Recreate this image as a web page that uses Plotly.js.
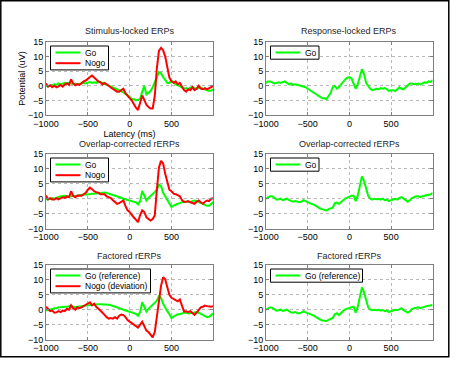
<!DOCTYPE html>
<html>
<head>
<meta charset="utf-8">
<script src="https://cdn.plot.ly/plotly-3.0.1.min.js"></script>
<style>html,body{margin:0;padding:0;background:#fff;}#chart{width:456px;height:368px;}</style>
</head>
<body>
<div id="chart"></div>
<script>
// ---- data ----
const latency = Array.from({length: 81}, (_, i) => -1000 + 25 * i); // ms, sample grid

const stimGo = [
  0, -0.2, 0, 0.3, 0.5, 0.3, 0.8, 0.5, 0.7, 1.0,
  0.8, 1.0, 0.8, 0.6, 0.8, 0.5, 0.6, 0.7, 1.0, 0.8,
  1.0, 1.3, 1.0, 1.2, 1.0, 1.5, 1.3, 1.0, 0.8, 0.5,
  0.0, -0.3, -0.6, -0.8, -1.0, -1.4, -1.8, -2.3, -2.7, -3.3,
  -3.8, -4.5, -4.6, -5.0, -4.8, -4.5, -2.0, 0.0, -3.0, -2.5,
  -1.8, -0.5, 1.5, 3.0, 4.7, 4.3, 3.0, 1.8, 1.0, 1.0,
  1.8, 1.2, 0.5, 0.2, -0.3, -0.8, -1.0, -0.8, -1.2, -0.6,
  -0.4, -0.8, -1.0, -0.6, -0.5, -1.0, -1.2, -1.5, -1.8, -1.6,
  -1.2
];
const stimNogo = [
  0.8, -0.3, 0.2, -0.5, 0.0, -0.5, -0.2, 0.3, -0.3, 0.5,
  0.8, 0.3, 2.2, 0.8, 0.2, 0.6, 0.3, 1.0, 1.5, 1.8,
  2.5, 3.0, 3.5, 2.8, 2.0, 1.5, 1.2, 0.5, 1.0, 0.6,
  0.0, -0.6, -1.0, -1.5, -2.0, -2.0, -1.5, -1.0, -2.5, -3.5,
  -4.2, -5.0, -6.3, -7.5, -8.3, -6.0, -3.3, -4.8, -6.5, -7.3,
  -7.8, -7.8, -3.5, 6.0, 12.0, 13.0, 12.2, 10.0, 6.5, 2.8,
  1.5, 1.0, 1.5, 0.5, 1.0, -0.5, -1.5, -2.0, -1.2, -1.5,
  -0.5, -1.5, -1.0, 0.0, -1.0, -1.2, -0.8, -1.2, -0.8, -0.5,
  0.0
];
const respGo = [
  1.0, 1.5, 1.5, 1.2, 0.8, 1.0, 1.2, 1.0, 1.2, 1.5,
  1.0, 0.5, 0.8, 0.3, 0.5, 0.3, 0.2, 0.0, -0.3, -0.5,
  -1.0, -1.5, -2.0, -2.5, -3.0, -3.5, -4.0, -4.3, -4.3, -4.6,
  -3.5, -2.5, -0.5, 0.0, -1.0, -0.5, 0.5, 1.5, 2.2, 2.8,
  3.0, 2.5, 0.5, -1.0, 0.5, 3.0, 5.7, 4.0, 1.0, 0.0,
  -1.0, -1.5, -1.2, -1.0, -1.2, -0.8, -1.0, -0.8, -1.2, -1.8,
  -1.5, -1.5, -1.8, -1.0, -0.5, -1.0, -1.2, -0.5, 0.0, 0.8,
  0.8, 0.5, 0.6, 0.8, 0.5, 1.0, 1.2, 1.0, 1.5, 1.3,
  2.0
];
const overlapGo = [
  -0.2, -0.3, 0.0, 0.2, 0.0, 0.3, 0.6, 0.8, 0.8, 1.0,
  0.8, 0.6, 0.9, 0.8, 0.9, 1.0, 1.2, 1.3, 1.3, 1.5,
  1.4, 1.6, 1.7, 1.7, 1.8, 2.0, 2.0, 2.1, 2.1, 1.9,
  1.7, 1.5, 1.3, 1.0, 0.9, 0.6, 0.3, 0.0, -0.2, -0.4,
  -0.6, -0.8, -1.0, -1.2, -1.9, -0.8, 2.6, 1.0, -0.6, 0.3,
  1.1, 1.6, 2.2, 3.0, 4.7, 4.3, 2.0, 0.8, 0.0, -1.2,
  -2.8, -2.3, -1.9, -1.7, -1.5, -1.2, -0.9, -1.0, -1.1, -1.1,
  -0.8, -0.6, -0.8, -1.1, -1.4, -1.8, -2.2, -2.4, -2.4, -1.8,
  -1.1
];
const overlapNogo = [
  1.1, -0.2, 0.2, -0.3, -0.3, 0.2, -0.2, 0.3, 0.5, 0.3,
  0.8, 0.5, 2.5, 0.9, 0.5, 1.1, 1.1, 1.0, 1.5, 2.0,
  3.0, 3.7, 3.2, 2.5, 2.2, 2.0, 1.5, 1.5, 1.5, 0.8,
  0.6, 0.2, -0.5, -1.2, -1.7, -1.5, -1.0, -0.6, -2.5, -3.9,
  -4.5, -5.6, -6.3, -7.0, -7.9, -5.5, -3.9, -4.5, -6.2, -6.8,
  -7.3, -6.8, -5.6, 3.0, 10.5, 12.7, 11.8, 8.4, 5.5, 3.0,
  2.5, 1.7, 1.5, 1.2, 0.8, -0.5, -1.1, -1.0, -0.8, -1.2,
  -1.5, -1.7, -1.0, -0.6, -1.2, -1.7, -1.0, -0.6, -0.8, 0.0,
  0.2
];
const overlapRespGo = [
  0.0, 0.5, 0.8, 0.8, 0.3, -0.3, -0.3, 0.0, -0.5, -0.2,
  0.0, -0.5, -0.8, -1.0, -0.8, -1.0, -1.2, -1.0, -0.5, -0.8,
  -1.2, -1.5, -1.8, -2.0, -2.5, -3.0, -3.3, -3.5, -3.8, -4.0,
  -3.5, -3.2, -3.0, -1.5, -1.3, -1.8, -1.0, -0.5, 0.0, 0.3,
  0.5, 1.0, 1.0, -0.8, 1.0, 4.0, 7.5, 6.0, 3.0, 1.0,
  0.0, -0.3, 0.0, -0.2, 0.0, -0.3, 0.0, -0.5, -0.3, -0.8,
  -0.5, -0.3, 0.0, -0.3, 0.3, 0.5, 0.0, -0.5, -1.0, -0.5,
  0.2, 0.5, 0.8, 0.8, 0.5, 0.8, 1.0, 1.2, 1.3, 1.5,
  2.0
];
const factoredGo = [
  -0.3, 0.0, 0.0, 0.3, 0.5, 0.5, 0.8, 0.8, 1.0, 1.0,
  1.0, 1.2, 1.3, 1.0, 0.8, 1.0, 1.0, 1.2, 1.2, 1.4,
  1.5, 1.5, 1.6, 1.6, 1.7, 1.8, 1.8, 1.8, 1.9, 1.8,
  1.7, 1.5, 1.3, 1.0, 0.8, 0.6, 0.3, 0.0, -0.3, -0.5,
  -0.7, -0.9, -1.2, -1.4, -2.0, -0.8, 2.5, 1.0, -0.6, 0.3,
  1.0, 1.6, 2.3, 3.0, 4.5, 4.0, 2.0, 0.5, -0.5, -1.5,
  -2.8, -2.3, -1.8, -1.5, -1.5, -1.2, -1.0, -1.0, -1.3, -1.2,
  -1.0, -0.9, -0.8, -1.0, -1.4, -1.8, -2.3, -2.5, -2.4, -1.8,
  -1.2
];
const factoredNogo = [
  1.0, 0.3, -0.5, -0.3, -1.0, -0.9, -0.5, -0.8, -0.3, -0.5,
  0.3, 0.0, 1.5, 0.5, 0.0, 0.8, 0.5, 0.8, 1.2, 1.8,
  2.2, 2.5, 1.5, 2.0, 1.0, 0.5, -0.3, -1.0, -1.8, -2.5,
  -3.0, -2.8, -3.0, -2.5, -3.0, -2.0, -1.6, -1.8, -2.5, -3.5,
  -4.0, -4.5, -5.0, -5.5, -6.0, -5.0, -4.0, -5.5, -7.0, -7.5,
  -8.5, -9.3, -7.5, -2.0, 3.0, 8.0, 10.9, 10.2, 7.5, 5.0,
  4.0, 3.5, 3.0, 2.8, 3.4, 1.5, -0.6, -0.5, -0.8, -0.5,
  -1.0, -1.7, -1.0, 0.0, 0.8, 1.0, 1.4, 1.2, 1.0, 1.0,
  1.2
];
const factoredRespGo = [
  0.0, 0.5, 0.8, 0.6, 0.2, -0.3, -0.2, 0.0, -0.4, -0.2,
  0.0, -0.5, -0.9, -1.0, -0.8, -1.1, -1.2, -1.0, -0.5, -0.9,
  -1.2, -1.4, -1.6, -2.0, -2.5, -3.0, -3.3, -3.6, -3.8, -3.8,
  -3.4, -3.0, -2.8, -1.5, -1.2, -1.8, -1.0, -0.4, 0.1, 0.4,
  0.6, 0.8, 1.0, -1.0, 1.0, 4.0, 7.5, 5.8, 3.0, 0.8,
  0.0, -0.2, 0.0, -0.2, 0.0, -0.3, -0.1, -0.5, -0.3, -0.8,
  -0.5, -0.2, 0.0, -0.2, 0.3, 0.5, -0.2, -0.6, -1.0, -0.6,
  0.2, 0.5, 0.7, 0.8, 0.5, 0.8, 1.0, 1.2, 1.3, 1.4,
  1.8
];

const panelTitles = ['Stimulus-locked ERPs', 'Response-locked ERPs',
                     'Overlap-corrected rERPs', 'Overlap-corrected rERPs',
                     'Factored rERPs', 'Factored rERPs'];
const xTicks = [-1000, -500, 0, 500];
const yTicks = [-10, -5, 0, 5, 10, 15];

// series per panel: [values, name, color]
const GREEN = '#00ff00', RED = '#ff0000';
const panels = [
  [[stimGo, 'Go', GREEN], [stimNogo, 'Nogo', RED]],
  [[respGo, 'Go', GREEN]],
  [[overlapGo, 'Go', GREEN], [overlapNogo, 'Nogo', RED]],
  [[overlapRespGo, 'Go', GREEN]],
  [[factoredGo, 'Go (reference)', GREEN], [factoredNogo, 'Nogo (deviation)', RED]],
  [[factoredRespGo, 'Go (reference)', GREEN]]
];

// ---- layout geometry (pixels) ----
const W = 456, H = 368;
const colX = [[46, 213], [266, 432.5]];
const rowY = [[42, 115], [154, 228.5], [265, 339.5]];
const titleY = [31, 144, 256];
const legendW = [58, 48.5, 58, 48.5, 100, 92];
const px = x => x / W, py = y => 1 - y / H;

const traces = [], shapes = [], annotations = [];
const layout = {
  width: W, height: H, margin: {l: 0, r: 0, t: 0, b: 0},
  paper_bgcolor: '#fff', plot_bgcolor: '#fff', showlegend: false,
  font: {family: 'Liberation Sans, Arial, sans-serif', size: 9, color: '#000'}
};

panels.forEach((series, p) => {
  const r = Math.floor(p / 2), c = p % 2;
  const sfx = p === 0 ? '' : String(p + 1);
  const [x0, x1] = colX[c], [y0, y1] = rowY[r];
  const axStyle = {
    ticks: 'inside', ticklen: 3, tickcolor: '#7f7f7f', tickwidth: 1,
    showline: true, mirror: 'ticks', linecolor: '#7f7f7f', linewidth: 1,
    showgrid: true, gridcolor: '#b8b8b8', griddash: 'dot', gridwidth: 1,
    zeroline: false, tickfont: {size: 9, color: '#000'}
  };
  layout['xaxis' + sfx] = Object.assign({}, axStyle, {
    domain: [px(x0), px(x1)], anchor: 'y' + sfx, range: [-1000, 996],
    tickmode: 'array', tickvals: xTicks
  });
  layout['yaxis' + sfx] = Object.assign({}, axStyle, {
    domain: [py(y1), py(y0)], anchor: 'x' + sfx, range: [-10, 15],
    tickmode: 'array', tickvals: yTicks
  });
  if (p === 0) {
    layout.xaxis.title = {text: 'Latency (ms)', font: {size: 9, color: '#000'}, standoff: 2};
    layout.yaxis.title = {text: 'Potential (uV)', font: {size: 9, color: '#000'}, standoff: 0};
  }
  series.forEach(([vals, name, color]) => {
    traces.push({
      x: latency, y: vals, name: name, type: 'scatter', mode: 'lines',
      xaxis: 'x' + sfx, yaxis: 'y' + sfx,
      line: {color: color, width: 2}, hoverinfo: 'skip'
    });
  });
  annotations.push({
    xref: 'paper', yref: 'paper', x: px((x0 + x1) / 2), y: py(titleY[r]),
    xanchor: 'center', yanchor: 'middle', showarrow: false,
    text: panelTitles[p], font: {size: 9, color: '#262626'}
  });
  // legend box
  const lx = x0 + 4.5, ly = y0 + 4, rowH = 10.7;
  const bh = series.length * rowH + 2.5;
  shapes.push({type: 'rect', xref: 'paper', yref: 'paper',
    x0: px(lx), x1: px(lx + legendW[p]), y0: py(ly), y1: py(ly + bh),
    line: {color: '#000', width: 1}, fillcolor: '#fff', layer: 'above'});
  series.forEach(([vals, name, color], k) => {
    const yy = ly + 6.5 + k * rowH;
    shapes.push({type: 'line', xref: 'paper', yref: 'paper',
      x0: px(lx + 5), x1: px(lx + 30), y0: py(yy), y1: py(yy),
      line: {color: color, width: 2}, layer: 'above'});
    annotations.push({xref: 'paper', yref: 'paper', x: px(lx + 32), y: py(yy),
      xanchor: 'left', yanchor: 'middle', showarrow: false, text: name,
      font: {size: 8.5, color: '#000'}});
  });
});

// outer frame
shapes.push({type: 'rect', xref: 'paper', yref: 'paper',
  x0: px(0.8), x1: px(448.8), y0: py(0.8), y1: py(356.8),
  line: {color: '#000', width: 1.5}, layer: 'above'});

layout.shapes = shapes;
layout.annotations = annotations;

Plotly.newPlot('chart', traces, layout, {staticPlot: true, displayModeBar: false});
</script>
</body>
</html>
